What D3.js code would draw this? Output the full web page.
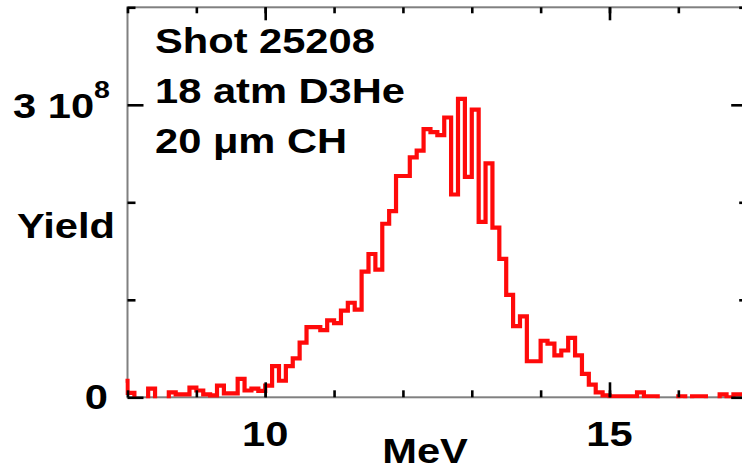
<!DOCTYPE html>
<html>
<head>
<meta charset="utf-8">
<script src="https://cdn.jsdelivr.net/npm/d3@7"></script>
<style>
  body { margin: 0; background: #fff; }
  svg { display: block; }
</style>
</head>
<body>
<script>
'use strict';

// lower edge of each 0.1 MeV bin
const energy = [
  7.9, 8.0, 8.1, 8.2, 8.3, 8.4, 8.5, 8.6, 8.7, 8.8, 8.9,
  9.0, 9.1, 9.2, 9.3, 9.4, 9.5, 9.6, 9.7, 9.8, 9.9,
  10.0, 10.1, 10.2, 10.3, 10.4, 10.5, 10.6, 10.7, 10.8, 10.9,
  11.0, 11.1, 11.2, 11.3, 11.4, 11.5, 11.6, 11.7, 11.8, 11.9,
  12.0, 12.1, 12.2, 12.3, 12.4, 12.5, 12.6, 12.7, 12.8, 12.9,
  13.0, 13.1, 13.2, 13.3, 13.4, 13.5, 13.6, 13.7, 13.8, 13.9,
  14.0, 14.1, 14.2, 14.3, 14.4, 14.5, 14.6, 14.7, 14.8, 14.9,
  15.0, 15.1, 15.2, 15.3, 15.4, 15.5, 15.6, 15.7, 15.8, 15.9,
  16.0, 16.1, 16.2, 16.3, 16.4, 16.5, 16.6, 16.7, 16.8, 16.9, 17.0
];

// yield per bin, in units of 1e8 (negatives are below the axis and clipped)
const yieldE8 = [
  0.17, 0.045, -0.05, -0.05, 0.09, -0.05, -0.05, 0.05, 0.03, 0.03, 0.10,
  0.07, 0.03, 0.02, 0.12, 0.04, 0.04, 0.19, 0.07, 0.09, 0.065,
  0.12, 0.32, 0.17, 0.32, 0.40, 0.56, 0.72, 0.72, 0.69, 0.79,
  0.76, 0.89, 0.97, 0.90, 1.29, 1.47, 1.31, 1.78, 1.91, 2.27,
  2.27, 2.46, 2.53, 2.75, 2.72, 2.69, 2.87, 2.08, 3.06, 2.26,
  2.95, 1.80, 2.40, 1.74, 1.42, 1.05, 0.73, 0.83, 0.37, 0.37,
  0.58, 0.55, 0.43, 0.48, 0.61, 0.43, 0.24, 0.13, 0.05, 0.02,
  0.01, 0.01, 0.01, 0.01, 0.05, 0.01, 0.01, -0.05, -0.05, -0.05,
  0.01, -0.05, 0.01, 0.01, -0.05, -0.05, 0.03, 0.0, 0.03, 0.03, 0.03
];

const xDomain = [8, 17];
const yDomain = [0, 4e8];
const xMinorTicks = [8, 9, 10, 11, 12, 13, 14, 15, 16, 17];
const xMajorTicks = [10, 15];
const yMinorTicks = [1e8, 2e8, 4e8];
const yMajorTicks = [0, 3e8];
const notes = ["Shot 25208", "18 atm D3He", "20 \u03bcm CH"];

(function() {

  let svgContainer = "";
  const font = "'Liberation Sans', Arial, Helvetica, sans-serif";
  const stretch = 1.19; // the lettering is wider than it is tall

  window.onload = function() {
    svgContainer = d3.select('body')
      .append('svg')
      .attr('width', 742)
      .attr('height', 471)
      .style('font-family', font)
      .style('font-weight', 'bold');

    let data = energy.map((e, i) => ({ e: e, v: yieldE8[i] * 1e8 }));
    let map = drawAxes();
    plotData(data, map);
    drawTicks(map);
    makeLabels(map);
  };

  // frame lines and scales
  function drawAxes() {
    let xScale = d3.scaleLinear().domain(xDomain).range([127.5, 747.2]);
    let yScale = d3.scaleLinear().domain(yDomain).range([397.3, 7.3]);

    svgContainer.append('rect')
      .attr('x', xScale(xDomain[0]))
      .attr('y', yScale(yDomain[1]))
      .attr('width', xScale(xDomain[1]) - xScale(xDomain[0]))
      .attr('height', yScale(0) - yScale(yDomain[1]))
      .attr('fill', 'none')
      .attr('stroke', '#808080')
      .attr('stroke-width', 2);

    return { xScale: xScale, yScale: yScale };
  }

  // histogram as a step line
  function plotData(data, map) {
    let x = map.xScale, y = map.yScale;

    svgContainer.append('clipPath')
      .attr('id', 'plotClip')
      .append('rect')
      .attr('x', x(xDomain[0]) - 2)
      .attr('y', y(yDomain[1]))
      .attr('width', x(xDomain[1]) - x(xDomain[0]) + 2)
      .attr('height', y(0) - y(yDomain[1]) + 1);

    let line = d3.line()
      .x(d => x(d.e))
      .y(d => y(d.v))
      .curve(d3.curveStepAfter);

    svgContainer.append('path')
      .datum(data)
      .attr('clip-path', 'url(#plotClip)')
      .attr('d', line)
      .attr('fill', 'none')
      .attr('stroke', '#ff0a0a')
      .attr('stroke-width', 4.2)
      .attr('stroke-linejoin', 'miter');
  }

  // inward ticks on all four sides
  function drawTicks(map) {
    let x = map.xScale, y = map.yScale;
    let x0 = x(xDomain[0]), x1 = x(xDomain[1]);
    let y0 = y(0), y1 = y(yDomain[1]);

    function styleTicks(g) {
      g.select('.domain').remove();
      g.selectAll('text').remove();
      g.selectAll('line')
        .attr('stroke', '#000')
        .attr('stroke-width', 2.6);
    }

    let sets = [
      [d3.axisBottom(x).tickValues(xMinorTicks).tickSize(-7), 0, y0],
      [d3.axisBottom(x).tickValues(xMajorTicks).tickSize(-15), 0, y0],
      [d3.axisTop(x).tickValues(xMinorTicks).tickSize(-6), 0, y1],
      [d3.axisTop(x).tickValues(xMajorTicks).tickSize(-13), 0, y1],
      [d3.axisLeft(y).tickValues(yMinorTicks).tickSize(-8), x0, 0],
      [d3.axisLeft(y).tickValues(yMajorTicks).tickSize(-16), x0, 0],
      [d3.axisRight(y).tickValues(yMinorTicks).tickSize(-8), x1, 0],
      [d3.axisRight(y).tickValues(yMajorTicks).tickSize(-16), x1, 0]
    ];
    sets.forEach(s => {
      svgContainer.append('g')
        .attr('transform', 'translate(' + s[1] + ',' + s[2] + ')')
        .call(s[0])
        .call(styleTicks);
    });
  }

  // add a widened text at (x, y)
  function addText(x, y, anchor, size) {
    return svgContainer.append('text')
      .attr('transform', 'translate(' + x + ',' + y + ') scale(' + stretch + ',1)')
      .attr('text-anchor', anchor)
      .style('font-size', size + 'px');
  }

  // tick labels, axis titles and the shot notes
  function makeLabels(map) {
    let x = map.xScale, y = map.yScale;
    const size = 35;

    xMajorTicks.forEach(t => {
      addText(x(t), 446, 'middle', size).text(t);
    });

    addText(108, y(0) + 12, 'end', size).text('0');

    let top = addText(110, y(3e8) + 13, 'end', size);
    top.append('tspan').text('3 10');
    top.append('tspan')
      .attr('dy', -20)
      .style('font-size', '24px')
      .text('8');

    addText(17, 238, 'start', size).text('Yield');

    addText(425, 463, 'middle', size).text('MeV');

    notes.forEach((d, i) => {
      addText(155, 53 + i * 50, 'start', size).text(d);
    });
  }

})();
</script>
</body>
</html>
